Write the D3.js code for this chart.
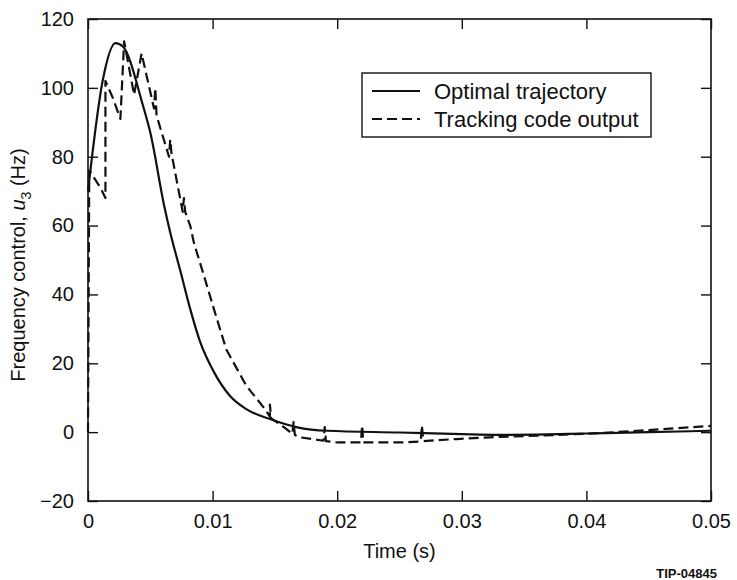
<!doctype html>
<html>
<head>
<meta charset="utf-8">
<style>
  body { margin: 0; background: #fff; }
  text { font-family: "Liberation Sans", Arial, Helvetica, sans-serif; fill: #111; }
</style>
</head>
<body>
<svg width="737" height="580"></svg>
<script src="https://cdn.jsdelivr.net/npm/d3@7"></script>
<script>

// data (time in s, frequency in Hz)
var optimalTime = [0, 0.0012, 0.0022, 0.0028, 0.0044, 0.0050, 0.0061, 0.0066, 0.0074, 0.0082, 0.0090, 0.0101,
                   0.0114, 0.0127, 0.0146, 0.0168, 0.0192, 0.0250, 0.0300, 0.0330, 0.0360, 0.0400, 0.0450, 0.0500];
var optimalValue = [70, 102.5, 113, 112, 95, 87, 66, 58, 47, 35.8, 26.2, 17.5,
                    10.5, 6.7, 3.8, 1.4, 0.4, -0.1, -0.6, -0.8, -0.7, -0.4, 0, 0.4];

var trackingTime = [0, 0.0001, 0.0010, 0.0014, 0.0014, 0.0020, 0.0026, 0.0029, 0.0037, 0.0043,
                    0.0053, 0.0054, 0.0055, 0.0065, 0.0066, 0.0067, 0.0076, 0.0077, 0.0078,
                    0.0082, 0.0085, 0.0093, 0.0101, 0.0111, 0.0127, 0.0142,
                    0.0146, 0.0146, 0.0147, 0.0157, 0.0164, 0.0165, 0.0166, 0.0170,
                    0.0189, 0.0190, 0.0191, 0.0200, 0.0219, 0.0220, 0.0221, 0.0250,
                    0.0267, 0.0268, 0.0269, 0.0296, 0.0323, 0.0363, 0.0410, 0.0450, 0.0500];
var trackingValue = [0, 76, 71, 68, 102, 97, 91, 113.5, 98, 110,
                     94, 100, 92, 80, 85, 81, 64, 68, 64,
                     60, 55, 45.5, 35.8, 24, 13.5, 6.7,
                     4.5, 8, 4, 1.5, -0.5, 3, -0.8, -1.5,
                     -2.5, 1.5, -2.6, -3, -3, 2, -3, -3,
                     -2.7, 2, -2.6, -2, -1.5, -1, -0.3, 0.6, 1.8];

var xTicks = [0, 0.01, 0.02, 0.03, 0.04, 0.05];
var xTickLabels = ["0", "0.01", "0.02", "0.03", "0.04", "0.05"];
var yTicks = [-20, 0, 20, 40, 60, 80, 100, 120];
var yTickLabels = ["\u221220", "0", "20", "40", "60", "80", "100", "120"];

var seriesNames = ["Optimal trajectory", "Tracking code output"];

var svg = d3.select("svg"),
    margin = {top: 19, right: 26, bottom: 79, left: 88},
    width = +svg.attr("width") - margin.left - margin.right,
    height = +svg.attr("height") - margin.top - margin.bottom,
    g = svg.append("g").attr("transform", "translate(" + margin.left + "," + margin.top + ")");

var x = d3.scaleLinear().domain([0, 0.05]).range([0, width]);
var y = d3.scaleLinear().domain([-20, 120]).range([height, 0]);

var optimal = optimalTime.map(function(t, i) { return {t: t, v: optimalValue[i]}; });
var tracking = trackingTime.map(function(t, i) { return {t: t, v: trackingValue[i]}; });

var smoothLine = d3.line()
    .curve(d3.curveMonotoneX)
    .x(function(d) { return x(d.t); })
    .y(function(d) { return y(d.v); });

var line = d3.line()
    .x(function(d) { return x(d.t); })
    .y(function(d) { return y(d.v); });

// frame with inward ticks on all sides
g.append("rect")
    .attr("width", width)
    .attr("height", height)
    .attr("fill", "none")
    .attr("stroke", "#111")
    .attr("stroke-width", 1.6);

g.append("g")
    .attr("transform", "translate(0," + height + ")")
    .call(d3.axisBottom(x).tickValues(xTicks).tickSizeInner(-10).tickSizeOuter(0).tickPadding(13)
      .tickFormat(function(d, i) { return xTickLabels[i]; }))
    .call(function(a) { a.select(".domain").remove(); });

g.append("g")
    .call(d3.axisTop(x).tickValues(xTicks).tickSizeInner(-10).tickSizeOuter(0).tickFormat(""))
    .call(function(a) { a.select(".domain").remove(); });

g.append("g")
    .call(d3.axisLeft(y).tickValues(yTicks).tickSizeInner(-10).tickSizeOuter(0).tickPadding(14)
      .tickFormat(function(d, i) { return yTickLabels[i]; }))
    .call(function(a) { a.select(".domain").remove(); });

g.append("g")
    .attr("transform", "translate(" + width + ",0)")
    .call(d3.axisRight(y).tickValues(yTicks).tickSizeInner(-10).tickSizeOuter(0).tickFormat(""))
    .call(function(a) { a.select(".domain").remove(); });

g.selectAll(".tick line").attr("stroke", "#111").attr("stroke-width", 1.4);
g.selectAll(".tick text").style("font-size", "20px").attr("fill", "#111");

// lines
g.append("path")
    .datum(optimal)
    .attr("fill", "none")
    .attr("stroke", "#111")
    .attr("stroke-width", 2.2)
    .attr("stroke-linejoin", "round")
    .attr("d", smoothLine);

g.append("path")
    .datum(tracking)
    .attr("fill", "none")
    .attr("stroke", "#111")
    .attr("stroke-width", 2.2)
    .attr("stroke-dasharray", "10,5")
    .attr("stroke-linejoin", "round")
    .attr("d", line);

// legend
var legend = svg.append("g").attr("transform", "translate(362,73)");
legend.append("rect")
    .attr("width", 289)
    .attr("height", 64)
    .attr("fill", "#fff")
    .attr("stroke", "#111")
    .attr("stroke-width", 1.4);

seriesNames.forEach(function(name, i) {
  legend.append("line")
      .attr("x1", 10).attr("x2", 58)
      .attr("y1", 18 + i * 28).attr("y2", 18 + i * 28)
      .attr("stroke", "#111")
      .attr("stroke-width", 2.2)
      .attr("stroke-dasharray", i == 1 ? "10,5" : null);
  legend.append("text")
      .attr("x", 72)
      .attr("y", 18 + i * 28)
      .attr("dy", "0.35em")
      .style("font-size", "22px")
      .text(name);
});

// axis titles
svg.append("text")
    .attr("x", margin.left + width / 2)
    .attr("y", 558)
    .attr("text-anchor", "middle")
    .style("font-size", "20px")
    .text("Time (s)");

var ylab = svg.append("text")
    .attr("transform", "translate(25," + (margin.top + height / 2 + 5) + ") rotate(-90)")
    .attr("text-anchor", "middle")
    .style("font-size", "20px");
ylab.append("tspan").text("Frequency control, ");
ylab.append("tspan").style("font-style", "italic").text("u");
ylab.append("tspan").attr("dy", 6).style("font-size", "14px").text("3");
ylab.append("tspan").attr("dy", -6).text(" (Hz)");

svg.append("text")
    .attr("x", 717)
    .attr("y", 578)
    .attr("text-anchor", "end")
    .style("font-size", "13px")
    .style("font-weight", "bold")
    .text("TIP-04845");

</script>
</body>
</html>
